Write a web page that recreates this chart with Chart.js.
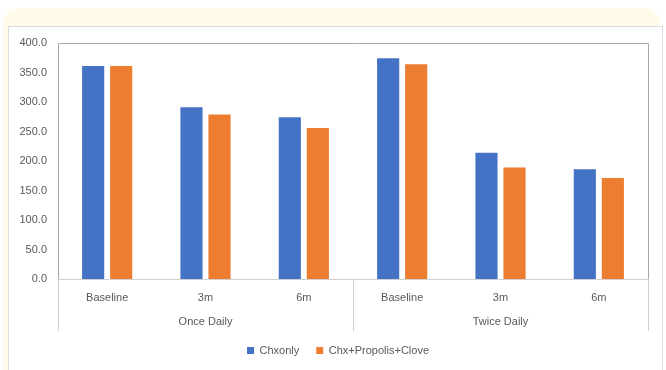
<!DOCTYPE html>
<html>
<head>
<meta charset="utf-8">
<script src="https://cdn.jsdelivr.net/npm/chart.js@4/dist/chart.umd.min.js"></script>
<style>
  html, body { margin: 0; padding: 0; background: #ffffff; }
  body { width: 666px; height: 370px; position: relative; overflow: hidden; }
  #panel { position: absolute; left: 3px; top: 8px; width: 657px; height: 380px;
           background: #fffaea; border-radius: 15px 15px 0 0; }
  #box { position: absolute; left: 8px; top: 26px; width: 653px; height: 360px;
         background: #ffffff; border: 1px solid #dcdcdc; }
  #wrap { position: absolute; left: 0; top: 0; width: 666px; height: 370px; }
</style>
</head>
<body>
<div id="panel"></div>
<div id="box"></div>
<div id="wrap"><canvas id="c" width="666" height="370"></canvas></div>
<script>
const categories = ['Baseline', '3m', '6m', 'Baseline', '3m', '6m'];
const groups = ['Once Daily', 'Twice Daily'];
const seriesNames = ['Chxonly', 'Chx+Propolis+Clove'];
const chxOnly = [361, 291, 274, 374, 214, 186];
const chxPropolisClove = [361, 279, 256, 364, 189, 171];
const yTicks = [0, 50, 100, 150, 200, 250, 300, 350, 400];

const FONT = { family: '"Liberation Sans", Arial, sans-serif', size: 11 };
const TEXT = '#595959';

const framePlugin = {
  id: 'frame',
  afterDraw(chart) {
    const ctx = chart.ctx;
    const a = chart.chartArea;
    const x = chart.scales.x;
    const bottom = Math.round(a.bottom) + 52;
    ctx.save();
    ctx.lineWidth = 1;
    ctx.strokeStyle = '#a6a6a6';
    ctx.beginPath();
    ctx.moveTo(Math.round(a.left) + 0.5, Math.round(a.bottom));
    ctx.lineTo(Math.round(a.left) + 0.5, Math.round(a.top) + 0.5);
    ctx.lineTo(Math.round(a.right) + 0.5, Math.round(a.top) + 0.5);
    ctx.lineTo(Math.round(a.right) + 0.5, Math.round(a.bottom));
    ctx.stroke();
    ctx.strokeStyle = '#d0d0d0';
    const mid = (x.getPixelForValue(2) + x.getPixelForValue(3)) / 2;
    [a.left, mid, a.right].forEach(px => {
      ctx.beginPath();
      ctx.moveTo(Math.round(px) + 0.5, Math.round(a.bottom));
      ctx.lineTo(Math.round(px) + 0.5, bottom);
      ctx.stroke();
    });
    ctx.restore();
  }
};

new Chart(document.getElementById('c'), {
  type: 'bar',
  data: {
    labels: categories,
    datasets: [
      { label: seriesNames[0], data: chxOnly, backgroundColor: '#4472c4',
        barPercentage: 0.79, categoryPercentage: 0.57 },
      { label: seriesNames[1], data: chxPropolisClove, backgroundColor: '#ed7d31',
        barPercentage: 0.79, categoryPercentage: 0.57 }
    ]
  },
  options: {
    responsive: false,
    animation: false,
    devicePixelRatio: 1,
    layout: { padding: { left: 10, top: 43, right: 0, bottom: 4 } },
    plugins: {
      tooltip: { enabled: false },
      legend: {
        position: 'bottom',
        labels: { boxWidth: 7, boxHeight: 7, padding: 17, color: TEXT, font: FONT }
      }
    },
    scales: {
      x: {
        type: 'category',
        position: 'bottom',
        grid: { display: false, drawTicks: false },
        border: { display: true, color: '#d0d0d0' },
        ticks: { color: TEXT, font: FONT, padding: 12, maxRotation: 0, autoSkip: false },
        afterFit(s) { s.height = 24; }
      },
      x2: {
        type: 'category',
        position: 'bottom',
        labels: groups,
        offset: true,
        grid: { display: false, drawTicks: false },
        border: { display: false },
        ticks: { color: TEXT, font: FONT, padding: 12, maxRotation: 0 },
        afterFit(s) { s.height = 25; }
      },
      y: {
        min: 0, max: 400,
        afterBuildTicks(s) { s.ticks = yTicks.map(v => ({ value: v })); },
        grid: { display: false, drawTicks: false },
        border: { display: false },
        ticks: { color: TEXT, font: FONT, padding: 11,
                 callback: v => Number(v).toFixed(1) },
        afterFit(s) { s.width = 48; }
      },
      yRight: {
        type: 'linear',
        position: 'right',
        min: 0, max: 400,
        grid: { display: false, drawTicks: false },
        border: { display: false },
        ticks: { display: false },
        afterFit(s) { s.width = 18; }
      }
    }
  },
  plugins: [framePlugin]
});
</script>
</body>
</html>
